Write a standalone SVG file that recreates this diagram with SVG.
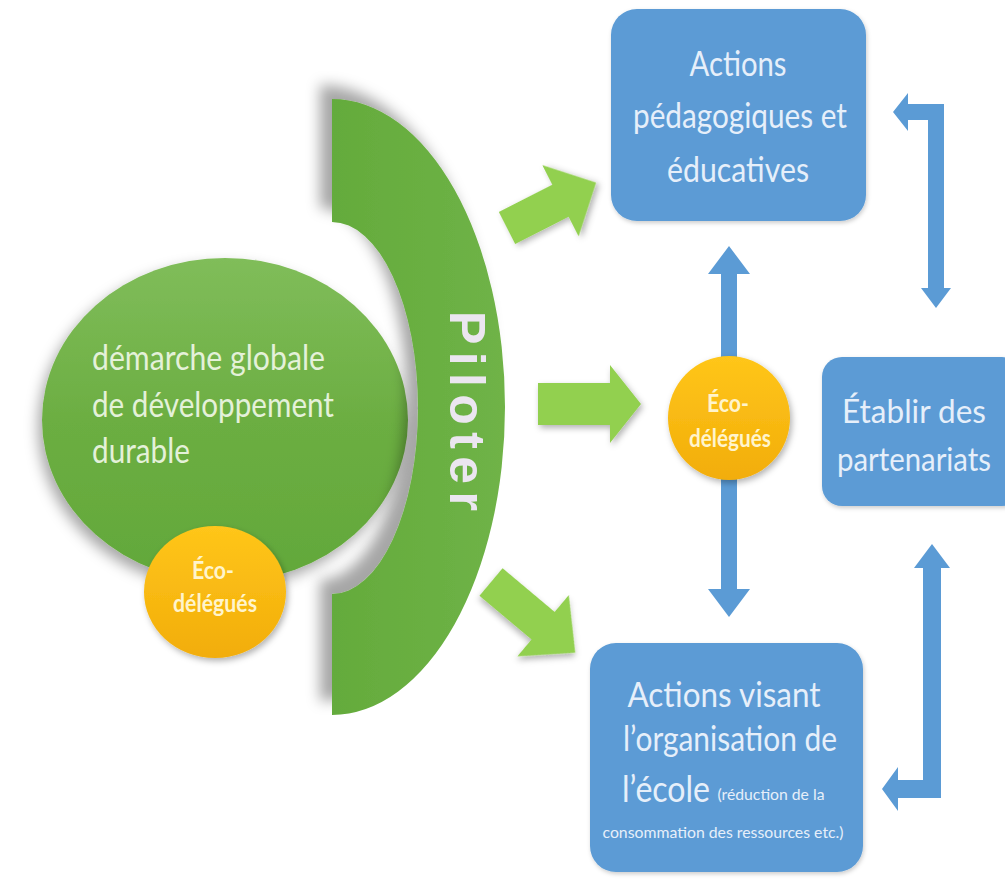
<svg xmlns="http://www.w3.org/2000/svg" width="1005" height="880" viewBox="0 0 1005 880">
  <defs>
    <filter id="shArc" x="-20%" y="-20%" width="140%" height="140%">
      <feDropShadow dx="-12" dy="-14" stdDeviation="7" flood-color="#000" flood-opacity="0.35"/>
    </filter>
    <filter id="shEll" x="-20%" y="-20%" width="140%" height="140%">
      <feDropShadow dx="-4" dy="7" stdDeviation="7" flood-color="#000" flood-opacity="0.35"/>
    </filter>
    <filter id="shSoft" x="-20%" y="-20%" width="140%" height="140%">
      <feDropShadow dx="2" dy="3" stdDeviation="3" flood-color="#000" flood-opacity="0.3"/>
    </filter>
    <filter id="shBox" x="-10%" y="-10%" width="120%" height="120%">
      <feDropShadow dx="1" dy="2" stdDeviation="2" flood-color="#000" flood-opacity="0.2"/>
    </filter>
    <linearGradient id="gEll" x1="0" y1="0" x2="0" y2="1">
      <stop offset="0" stop-color="#80bd5a"/>
      <stop offset="0.5" stop-color="#6cae42"/>
      <stop offset="1" stop-color="#62a83a"/>
    </linearGradient>
    <linearGradient id="gArc" x1="0" y1="0" x2="1" y2="0">
      <stop offset="0" stop-color="#64ab3c"/>
      <stop offset="1" stop-color="#6fb347"/>
    </linearGradient>
    <linearGradient id="gOr" x1="0" y1="0" x2="0" y2="1">
      <stop offset="0" stop-color="#ffc61a"/>
      <stop offset="1" stop-color="#f2ad0a"/>
    </linearGradient>
  </defs>
  <style>
    .box { fill: #5b9bd5; filter: url(#shBox); }
    .btxt { font-family: "Lato", "Liberation Sans", sans-serif; fill: #e6effa; text-anchor: middle; }
    .gtxt { font-family: "Lato", "Liberation Sans", sans-serif; fill: #e4f1d9; font-size: 34px; }
    .otxt { font-family: "Lato", "Liberation Sans", sans-serif; font-weight: bold; fill: #fff4cc; font-size: 24px; text-anchor: middle; }
    .garrow { fill: #92d050; filter: url(#shSoft); }
    .barrow { fill: #5b9bd5; }
  </style>
  <rect x="0" y="0" width="1005" height="880" fill="#ffffff"/>

  <g id="global">
    <ellipse cx="225" cy="420" rx="183" ry="162" fill="url(#gEll)" filter="url(#shEll)"/>
    <text class="gtxt" x="92" y="370" textLength="233" lengthAdjust="spacingAndGlyphs">démarche globale</text>
    <text class="gtxt" x="92" y="417" textLength="242" lengthAdjust="spacingAndGlyphs">de développement</text>
    <text class="gtxt" x="92" y="463" textLength="98" lengthAdjust="spacingAndGlyphs">durable</text>
  </g>

  <g id="eco-left">
    <ellipse cx="215" cy="592" rx="71" ry="66" fill="url(#gOr)" filter="url(#shSoft)"/>
    <text class="otxt" x="213" y="579" textLength="42" lengthAdjust="spacingAndGlyphs">Éco-</text>
    <text class="otxt" x="215" y="612" textLength="84" lengthAdjust="spacingAndGlyphs">délégués</text>
  </g>

  <g id="piloter">
    <path d="M332,99 A173,308 0 0 1 332,715 L332,594 A86,186 0 0 0 332,222 Z" fill="url(#gArc)" filter="url(#shArc)"/>
    <text transform="translate(467,411) rotate(90)" x="0" y="17" text-anchor="middle" font-family="Liberation Sans, Arial, sans-serif" font-weight="bold" font-size="50" fill="#ebe6f0" textLength="200">Piloter</text>
  </g>

  <g id="connectors">
    <polygon class="garrow" transform="translate(507,228) rotate(-27)" points="0,-18 60,-18 60,-40 100,0 60,40 60,18 0,18"/>
    <polygon class="garrow" points="538,383 610,383 610,365 641,404 610,443 610,425 538,425"/>
    <polygon class="garrow" transform="translate(491,582) rotate(40)" points="0,-18 68,-18 68,-40 110,0 68,40 68,18 0,18"/>
    <polygon class="barrow" points="729,246 750,274 737,274 737,589 750,589 729,617 708,589 721,589 721,274 708,274"/>
    <polygon class="barrow" points="893,112 908,93 908,104 944,104 944,288 951,288 936,308 921,288 928,288 928,120 908,120 908,131"/>
    <polygon class="barrow" points="932,544 950,568 941,568 941,798 898,798 898,811 882,789 898,767 898,780 923,780 923,568 914,568"/>
  </g>

  <g id="eco-center">
    <ellipse cx="729" cy="418" rx="61" ry="62" fill="url(#gOr)" filter="url(#shSoft)"/>
    <text class="otxt" x="728" y="412" textLength="42" lengthAdjust="spacingAndGlyphs">Éco-</text>
    <text class="otxt" x="730" y="447" textLength="82" lengthAdjust="spacingAndGlyphs">délégués</text>
  </g>

  <g id="box-pedago">
    <rect class="box" x="611" y="9" width="255" height="212" rx="26"/>
    <text class="btxt" x="738" y="76" font-size="34" textLength="97" lengthAdjust="spacingAndGlyphs">Actions</text>
    <text class="btxt" x="740" y="128" font-size="34" textLength="214" lengthAdjust="spacingAndGlyphs">pédagogiques  et</text>
    <text class="btxt" x="738" y="182" font-size="34" textLength="142" lengthAdjust="spacingAndGlyphs">éducatives</text>
  </g>

  <g id="box-partenariats">
    <rect class="box" x="822" y="357" width="200" height="149" rx="20"/>
    <text class="btxt" x="914" y="423" font-size="33" textLength="144" lengthAdjust="spacingAndGlyphs">Établir des</text>
    <text class="btxt" x="914" y="471" font-size="33" textLength="154" lengthAdjust="spacingAndGlyphs">partenariats</text>
  </g>

  <g id="box-organisation">
    <rect class="box" x="590" y="643" width="273" height="229" rx="26"/>
    <text class="btxt" x="724" y="707" font-size="34" textLength="193" lengthAdjust="spacingAndGlyphs">Actions visant</text>
    <text class="btxt" x="730" y="751" font-size="34" textLength="214" lengthAdjust="spacingAndGlyphs">l’organisation de</text>
    <text class="btxt" x="666" y="802" font-size="36" textLength="88" lengthAdjust="spacingAndGlyphs">l’école</text>
    <text class="btxt" x="771" y="800" font-size="15" textLength="107" lengthAdjust="spacingAndGlyphs">(réduction de la</text>
    <text class="btxt" x="723" y="838" font-size="15" textLength="241" lengthAdjust="spacingAndGlyphs">consommation des ressources etc.)</text>
  </g>
</svg>
